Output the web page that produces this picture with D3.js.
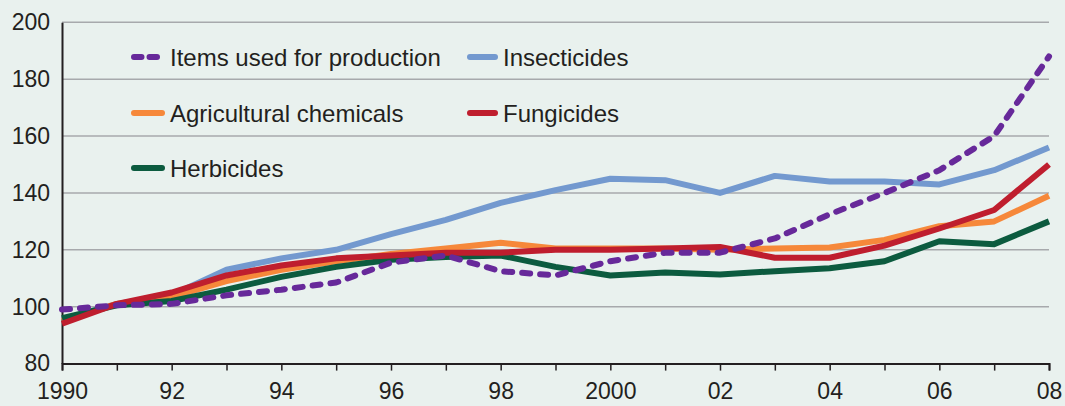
<!DOCTYPE html>
<html>
<head>
<meta charset="utf-8">
<script src="https://cdn.jsdelivr.net/npm/d3@7"></script>
<style>
  body { margin: 0; background: #e9f1ee; }
  svg { display: block; font-family: "Liberation Sans", Arial, sans-serif; }
  .axis text { font-size: 23px; fill: #231f20; }
</style>
</head>
<body>
<svg width="1065" height="406"></svg>
<script>
// index values (1990 = 100 approx)
var years = [1990, 1991, 1992, 1993, 1994, 1995, 1996, 1997, 1998, 1999,
             2000, 2001, 2002, 2003, 2004, 2005, 2006, 2007, 2008];
var itemsUsed    = [99, 100.5, 101, 104, 106, 108.5, 115.5, 118, 112.5, 111,
                    116, 119, 119, 124, 132.5, 140, 148, 160, 188];
var insecticides = [95.5, 101, 104, 113, 117, 120, 125.5, 130.5, 136.5, 141,
                    145, 144.5, 140, 146, 144, 144, 143, 148, 156];
var agChemicals  = [95, 101, 103.5, 109, 113, 116, 118.5, 120.5, 122.5, 120.5,
                    120.5, 120.5, 120, 120.5, 120.8, 123.5, 128.3, 130, 139];
var fungicides   = [94, 101, 105, 111, 114.5, 117, 118, 119, 119, 120,
                    120, 120.5, 121, 117.2, 117.2, 121.5, 127.5, 134, 150];
var herbicides   = [96, 100.5, 102, 106, 110.5, 114, 116.5, 117.5, 118, 114,
                    111, 112, 111.3, 112.5, 113.5, 116, 123, 122, 130];
var yTicks = [80, 100, 120, 140, 160, 180, 200];
var xLabelYears = [1990, 1992, 1994, 1996, 1998, 2000, 2002, 2004, 2006, 2008];

// draw order (bottom to top)
var series = [
    { name: 'Insecticides', values: insecticides, color: '#7399cf', dash: null },
    { name: 'Agricultural chemicals', values: agChemicals, color: '#f6883a', dash: null },
    { name: 'Herbicides', values: herbicides, color: '#0c5b3f', dash: null },
    { name: 'Fungicides', values: fungicides, color: '#bf1e2e', dash: null },
    { name: 'Items used for production', values: itemsUsed, color: '#67299a', dash: '8,10' }
];
// legend layout order: [name, col, row]
var legendOrder = [
    ['Items used for production', 0, 0], ['Insecticides', 1, 0],
    ['Agricultural chemicals', 0, 1], ['Fungicides', 1, 1],
    ['Herbicides', 0, 2]
];

var svg = d3.select('svg');
svg.append('rect').attr('width', 1065).attr('height', 406).attr('fill', '#e9f1ee');

var x = d3.scaleLinear().domain([1990, 2008]).range([62, 1049]);
var y = d3.scaleLinear().domain([80, 200]).range([363.6, 22.3]);

// gridlines
svg.append('g').selectAll('line')
    .data(yTicks.filter(function (d) { return d > 80; }))
    .enter().append('line')
    .attr('x1', x(1990)).attr('x2', x(2008))
    .attr('y1', function (d) { return y(d); })
    .attr('y2', function (d) { return y(d); })
    .attr('stroke', '#a7a9ac').attr('stroke-width', 1.5);

// y axis
var yAxis = d3.axisLeft(y).tickValues(yTicks).tickSize(0).tickPadding(12);
var gy = svg.append('g').attr('class', 'axis')
    .attr('transform', 'translate(' + x(1990) + ',0)')
    .call(yAxis);
gy.select('.domain').attr('stroke', '#231f20').attr('stroke-width', 2);

// x axis
var xAxis = d3.axisBottom(x).tickValues(years).tickSizeInner(7).tickSizeOuter(7).tickPadding(12)
    .tickFormat(function (d) {
        if (xLabelYears.indexOf(d) < 0) return '';
        if (d === 1990 || d === 2000) return String(d);
        return String(d).slice(2);
    });
var gx = svg.append('g').attr('class', 'axis')
    .attr('transform', 'translate(0,' + y(80) + ')')
    .call(xAxis);
gx.select('.domain').attr('stroke', '#231f20').attr('stroke-width', 2);
gx.selectAll('.tick line').attr('stroke', '#231f20').attr('stroke-width', 1.5);

// lines
var line = d3.line()
    .x(function (d, i) { return x(years[i]); })
    .y(function (d) { return y(d); });

svg.append('g').selectAll('path')
    .data(series)
    .enter().append('path')
    .attr('d', function (s) { return line(s.values); })
    .attr('fill', 'none')
    .attr('stroke', function (s) { return s.color; })
    .attr('stroke-width', 6)
    .attr('stroke-linejoin', 'round')
    .attr('stroke-linecap', function (s) { return s.dash ? 'round' : 'butt'; })
    .attr('stroke-dasharray', function (s) { return s.dash; });

// legend
var legendX1 = [134, 470], legendX2 = [162, 495], legendTextX = [170, 503], legendY = [57, 113, 168];
function byName(n) { return series.find(function (k) { return k.name === n; }); }
var lg = svg.append('g').selectAll('g')
    .data(legendOrder)
    .enter().append('g');
lg.append('line')
    .attr('x1', function (d) { return legendX1[d[1]]; })
    .attr('x2', function (d) { return byName(d[0]).dash ? legendX1[d[1]] + 23 : legendX2[d[1]]; })
    .attr('y1', function (d) { return legendY[d[2]]; })
    .attr('y2', function (d) { return legendY[d[2]]; })
    .attr('stroke', function (d) { return byName(d[0]).color; })
    .attr('stroke-width', 6)
    .attr('stroke-linecap', 'round')
    .attr('stroke-dasharray', function (d) { return byName(d[0]).dash ? '7.5,8' : null; });
lg.append('text')
    .attr('x', function (d) { return legendTextX[d[1]]; })
    .attr('y', function (d) { return legendY[d[2]]; })
    .attr('dy', '0.36em')
    .attr('font-size', 24)
    .attr('fill', '#231f20')
    .text(function (d) { return d[0]; });
</script>
</body>
</html>
